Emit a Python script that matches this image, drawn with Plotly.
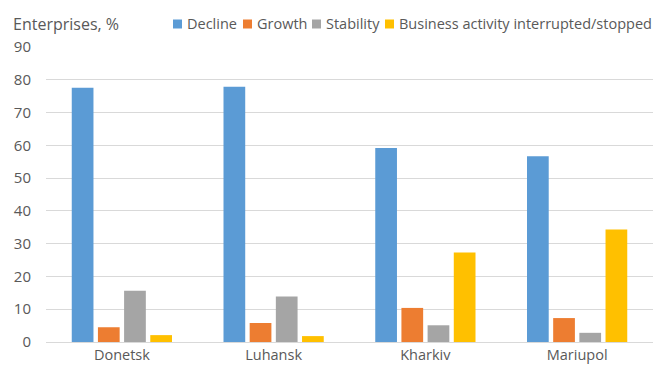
import plotly.graph_objects as go

cities = ["Donetsk", "Luhansk", "Kharkiv", "Mariupol"]
decline = [77.6, 77.9, 59.2, 56.7]
growth = [4.5, 5.8, 10.4, 7.3]
stability = [15.6, 13.9, 5.1, 2.8]
interrupted = [2.1, 1.8, 27.3, 34.3]

series_names = ["Decline", "Growth", "Stability", "Business activity interrupted/stopped"]
series_values = [decline, growth, stability, interrupted]
series_colors = ["#5B9BD5", "#ED7D31", "#A5A5A5", "#FFC000"]

text_color = "#595959"
font_family = "Open Sans, Liberation Sans, sans-serif"

W, H = 665, 367
ML, MR, MT, MB = 46, 12, 47, 25
PW = W - ML - MR
PH = H - MT - MB


def px_to_paper_x(px):
    return (px - ML) / PW


def px_to_paper_y(py):
    return (H - MB - py) / PH


fig = go.Figure()
for name, vals, color in zip(series_names, series_values, series_colors):
    fig.add_trace(go.Bar(
        x=cities, y=vals, name=name,
        marker=dict(color=color, line=dict(width=0)),
    ))

fig.update_layout(
    width=W, height=H,
    margin=dict(l=ML, r=MR, t=MT, b=MB, autoexpand=False),
    paper_bgcolor="white", plot_bgcolor="white",
    barmode="group", bargap=0.31, bargroupgap=0.17,
    font=dict(family=font_family, size=15, color=text_color),
    showlegend=False,
    xaxis=dict(showgrid=False, showline=True, linecolor="#D9D9D9", linewidth=1,
               ticks="", ticklabelstandoff=0,
               tickfont=dict(size=14.5, color=text_color)),
    yaxis=dict(range=[0, 90], dtick=10, showgrid=True, gridcolor="#D9D9D9",
               gridwidth=1, zeroline=False, ticks="", ticklabelstandoff=14,
               tickfont=dict(size=15, color=text_color)),
)

# axis title above the value axis
fig.add_annotation(
    text="Enterprises, %", xref="paper", yref="paper",
    x=px_to_paper_x(11), y=px_to_paper_y(24), xanchor="left", yanchor="middle",
    showarrow=False, font=dict(size=16, color=text_color),
)

# legend row: colour square followed by the series name
legend_square_x = [173, 243, 312, 385]
legend_y = 24
for name, color, sx in zip(series_names, series_colors, legend_square_x):
    fig.add_shape(
        type="rect", xref="paper", yref="paper",
        x0=px_to_paper_x(sx), x1=px_to_paper_x(sx + 9),
        y0=px_to_paper_y(legend_y + 4.5), y1=px_to_paper_y(legend_y - 4.5),
        fillcolor=color, line=dict(width=0),
    )
    fig.add_annotation(
        text=name, xref="paper", yref="paper",
        x=px_to_paper_x(sx + 12), y=px_to_paper_y(legend_y),
        xanchor="left", yanchor="middle", showarrow=False,
        font=dict(size=14.5, color=text_color),
    )

fig.write_html("out.html")
